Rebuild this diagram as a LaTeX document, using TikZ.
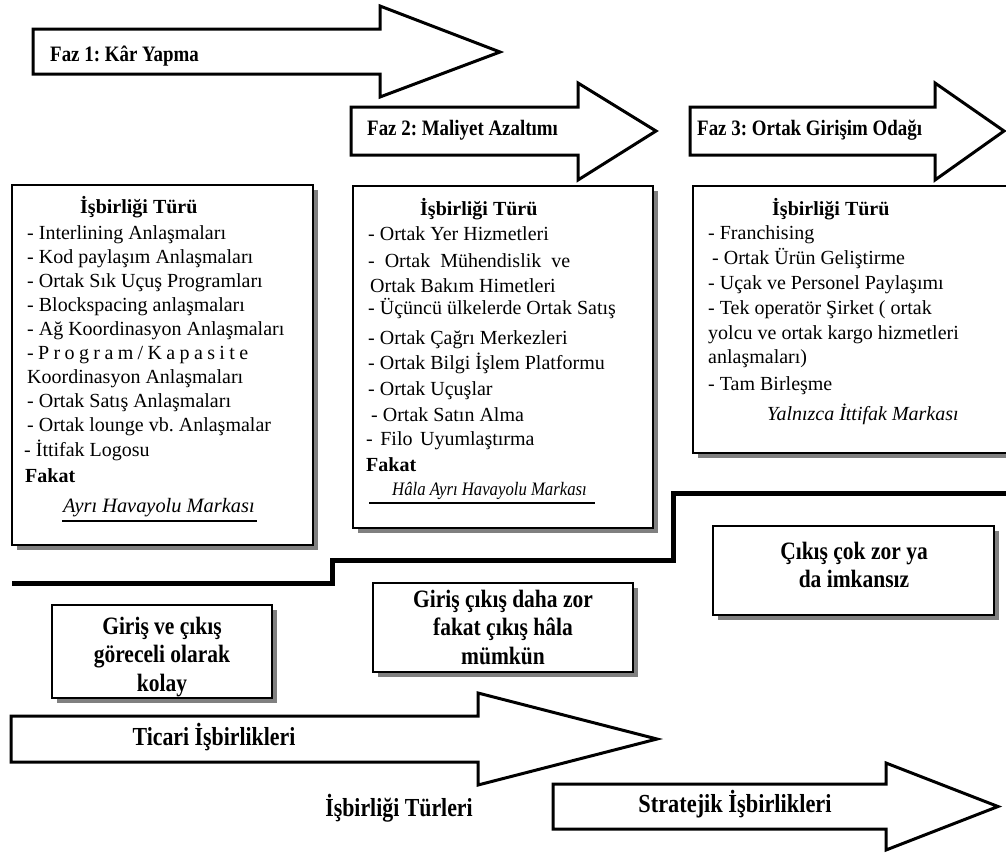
\documentclass[tikz,border=0pt]{standalone}
\usepackage{graphicx}
\usepackage{fontspec}
\setmainfont{Liberation Serif}
\usetikzlibrary{shadows}
\definecolor{shadowgray}{RGB}{128,128,128}
\frenchspacing
\begin{document}
\begin{tikzpicture}[x=1pt,y=-1pt,
  bigarrow/.style={draw=black, line width=3pt, fill=white, line join=miter, miter limit=10},
  infobox/.style={draw=black, line width=1.4pt, fill=white, inner sep=0pt, outer sep=0pt, anchor=north west,
     drop shadow={shadow xshift=5pt, shadow yshift=-5pt, fill=shadowgray, opacity=1}},
  entry/.style={anchor=mid west, inner sep=0pt, font=\fontsize{20}{24}\selectfont},
  boxtitle/.style={entry, font=\fontsize{20}{24}\selectfont\bfseries},
  brandnote/.style={entry, font=\fontsize{20.4}{24}\selectfont\itshape},
  verdict/.style={anchor=center, inner sep=0pt, font=\fontsize{25}{28.5}\selectfont\bfseries},
  phaselabel/.style={anchor=mid west, inner sep=0pt, font=\fontsize{22}{26}\selectfont\bfseries},
  flowlabel/.style={anchor=mid, inner sep=0pt, font=\fontsize{26}{30}\selectfont\bfseries},
  ruleline/.style={line width=1.6pt},
  stepline/.style={line width=5pt, line join=miter, line cap=butt}
]
\useasboundingbox (0,0) rectangle (1006,852);
\clip (0,0) rectangle (1006,852);

% phase arrows along the top
\draw[bigarrow] (33,29) -- (380,29) -- (380,6) -- (500,52) -- (380,97) -- (380,74) -- (33,74) -- cycle;
\node[phaselabel] (faz1) at (50,59) {\scalebox{0.86}[1]{Faz 1: Kâr Yapma}};
\draw[bigarrow] (351,107) -- (578,107) -- (578,83) -- (656,131) -- (578,180) -- (578,155) -- (351,155) -- cycle;
\node[phaselabel] (faz2) at (367,133) {\scalebox{0.86}[1]{Faz 2: Maliyet Azaltımı}};
\draw[bigarrow] (690,107) -- (935,107) -- (935,83) -- (1004,131) -- (935,180) -- (935,155) -- (690,155) -- cycle;
\node[phaselabel] (faz3) at (697,133) {\scalebox{0.86}[1]{Faz 3: Ortak Girişim Odağı}};

% cooperation type boxes
\node[infobox, minimum width=301pt, minimum height=360pt] (box1) at (12,185) {};
\node[infobox, minimum width=300pt, minimum height=342pt] (box2) at (353,186) {};
\node[infobox, minimum width=330pt, minimum height=267pt] (box3) at (693,186) {};

% box 1
\node[boxtitle] (b1t) at (80,211) {İşbirliği Türü};
\node[entry] (b1a) at (27,237) {- Interlining Anlaşmaları};
\node[entry] (b1b) at (27,261) {- Kod paylaşım Anlaşmaları};
\node[entry] (b1c) at (27,285) {- Ortak Sık Uçuş Programları};
\node[entry] (b1d) at (27,309) {- Blockspacing anlaşmaları};
\node[entry] (b1e) at (27,333) {- Ağ Koordinasyon Anlaşmaları};
\node[entry] (b1f) at (27,357) {\makebox[221pt][s]{- P r o g r a m / K a p a s i t e}};
\node[entry] (b1g) at (27,381) {Koordinasyon Anlaşmaları};
\node[entry] (b1h) at (27,405) {- Ortak Satış Anlaşmaları};
\node[entry] (b1i) at (27,429) {- Ortak lounge vb. Anlaşmalar};
\node[entry] (b1j) at (24,454) {- İttifak Logosu};
\node[boxtitle] (b1k) at (25,480) {Fakat};
\node[brandnote] (b1l) at (63,510) {Ayrı Havayolu Markası};
\draw[ruleline] (62,521) -- (257,521);

% box 2
\node[boxtitle] (b2t) at (420,213) {İşbirliği Türü};
\node[entry] (b2a) at (368,238) {- Ortak Yer Hizmetleri};
\node[entry] (b2b) at (368,265) {\makebox[202pt][s]{- Ortak Mühendislik ve}};
\node[entry] (b2c) at (370,290) {Ortak Bakım Himetleri};
\node[entry] (b2d) at (368,312) {- Üçüncü ülkelerde Ortak Satış};
\node[entry] (b2e) at (368,342) {- Ortak Çağrı Merkezleri};
\node[entry] (b2f) at (368,367) {- Ortak Bilgi İşlem Platformu};
\node[entry] (b2g) at (368,393) {- Ortak Uçuşlar};
\node[entry] (b2h) at (371,419) {- Ortak Satın Alma};
\node[entry] (b2i) at (366,443) {-\hspace{7.5pt}Filo\hspace{7.5pt}Uyumlaştırma};
\node[boxtitle] (b2j) at (366,469) {Fakat};
\node[brandnote, font=\fontsize{19}{22}\selectfont\itshape] (b2k) at (392,493) {\scalebox{0.88}[1]{Hâla Ayrı Havayolu Markası}};
\draw[ruleline] (369,503) -- (595,503);

% box 3
\node[boxtitle] (b3t) at (772,213) {İşbirliği Türü};
\node[entry] (b3a) at (708,237) {- Franchising};
\node[entry] (b3b) at (712,262) {- Ortak Ürün Geliştirme};
\node[entry] (b3c) at (708,287) {- Uçak ve Personel Paylaşımı};
\node[entry] (b3d) at (708,312) {- Tek operatör Şirket ( ortak};
\node[entry] (b3e) at (708,337) {yolcu ve ortak kargo hizmetleri};
\node[entry] (b3f) at (708,361) {anlaşmaları)};
\node[entry] (b3g) at (708,388) {- Tam Birleşme};
\node[brandnote, font=\fontsize{20}{24}\selectfont\itshape] (b3h) at (767,418) {Yalnızca İttifak Markası};

% stepped boundary line
\draw[stepline] (12,583) -- (332,583) -- (332,560) -- (673,560) -- (673,493) -- (1010,493);

% exit difficulty boxes
\node[infobox, minimum width=220pt, minimum height=93pt] (easy) at (52,605) {};
\node[verdict] (easyt) at (162,657) {\scalebox{0.86}[1]{\begin{tabular}{@{}c@{}}Giriş ve çıkış\\göreceli olarak\\kolay\end{tabular}}};
\node[infobox, minimum width=260pt, minimum height=89pt] (harder) at (373,583) {};
\node[verdict] (hardert) at (503,630) {\scalebox{0.86}[1]{\begin{tabular}{@{}c@{}}Giriş çıkış daha zor\\fakat çıkış hâla\\mümkün\end{tabular}}};
\node[infobox, minimum width=281pt, minimum height=89pt] (hardest) at (713,526) {};
\node[verdict] (hardestt) at (854,568) {\scalebox{0.86}[1]{\begin{tabular}{@{}c@{}}Çıkış çok zor ya\\da imkansız\end{tabular}}};

% cooperation kind arrows along the bottom
\draw[bigarrow] (11,716) -- (478,716) -- (478,693) -- (657,739) -- (478,785) -- (478,762) -- (11,762) -- cycle;
\node[flowlabel] (ticari) at (214,743) {\scalebox{0.84}[1]{Ticari İşbirlikleri}};
\node[flowlabel] (turler) at (399,814) {\scalebox{0.84}[1]{İşbirliği Türleri}};
\draw[bigarrow] (553,784) -- (886,784) -- (886,763) -- (998,806.5) -- (886,850) -- (886,829) -- (553,829) -- cycle;
\node[flowlabel] (stratejik) at (735,810) {\scalebox{0.86}[1]{Stratejik İşbirlikleri}};
\end{tikzpicture}
\end{document}
